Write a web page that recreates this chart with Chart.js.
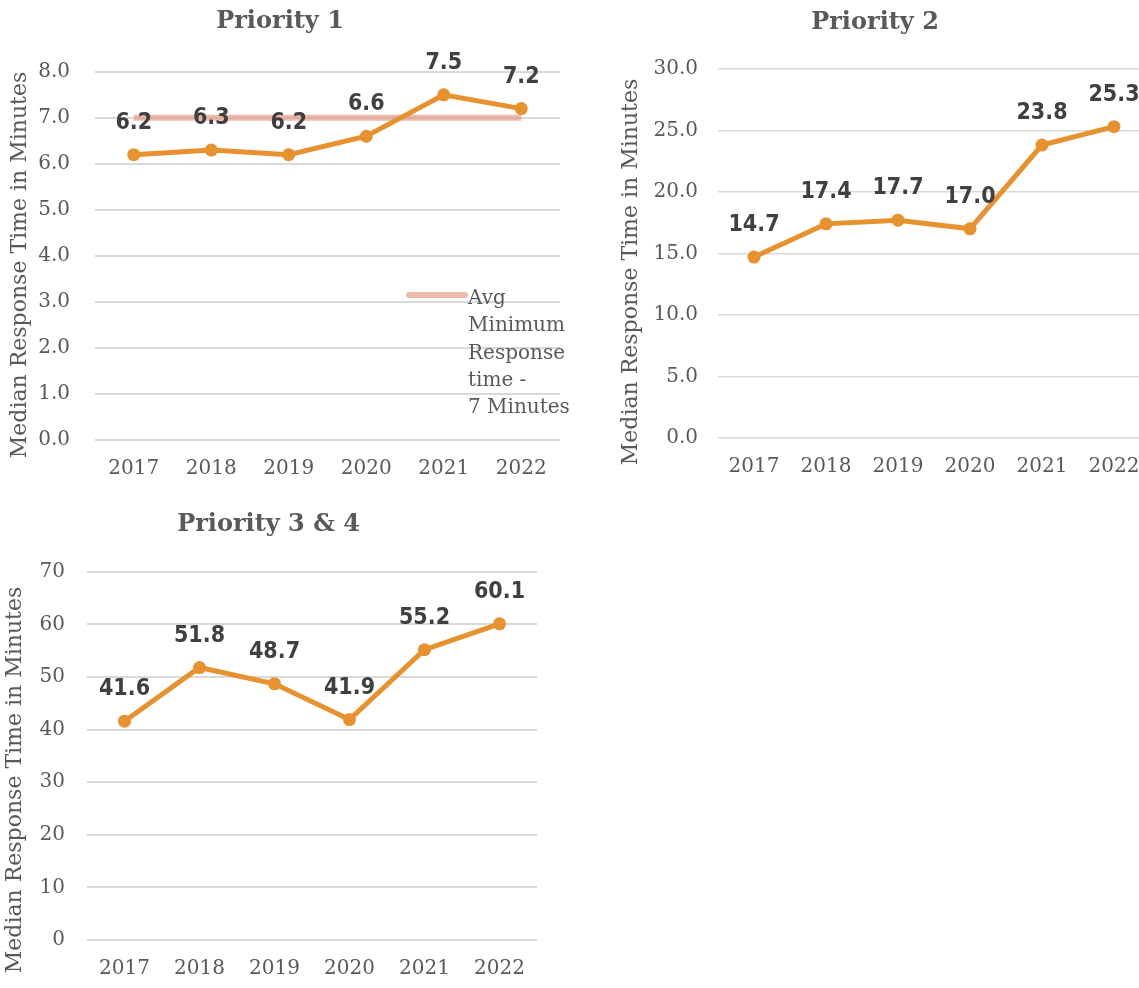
<!DOCTYPE html>
<html>
<head>
<meta charset="utf-8">
<script src="https://cdn.jsdelivr.net/npm/chart.js@4.4.1/dist/chart.umd.min.js"></script>
<style>
  html, body { margin: 0; padding: 0; background: #fff; overflow: hidden; }
  body { width: 1139px; height: 988px; position: relative; }
  .box { position: absolute; }
</style>
</head>
<body>
<div class="box" style="left:0;top:0;width:575px;height:490px"><canvas id="p1"></canvas></div>
<div class="box" style="left:600px;top:0;width:560px;height:490px"><canvas id="p2"></canvas></div>
<div class="box" style="left:0;top:495px;width:560px;height:493px"><canvas id="p3"></canvas></div>
<script>
// data
const years = ['2017', '2018', '2019', '2020', '2021', '2022'];
const priority1 = [6.2, 6.3, 6.2, 6.6, 7.5, 7.2];
const avgMinimum = [7, 7, 7, 7, 7, 7];
const priority2 = [14.7, 17.4, 17.7, 17.0, 23.8, 25.3];
const priority34 = [41.6, 51.8, 48.7, 41.9, 55.2, 60.1];
const avgLegendLines = ['Avg', 'Minimum', 'Response', 'time -', '7 Minutes'];
const yTitle = 'Median Response Time in Minutes';

const ORANGE = '#E8912F';
const SALMON = 'rgba(226,150,128,0.65)';
const GREY = '#595959';
const SERIF = '"DejaVu Serif", "Liberation Serif", serif';

// value labels above the orange points
const valueLabels = {
  id: 'valueLabels',
  afterDatasetsDraw(chart) {
    const ctx = chart.ctx;
    const meta = chart.getDatasetMeta(0);
    const data = chart.data.datasets[0].data;
    ctx.save();
    ctx.font = 'bold 23px "DejaVu Sans Condensed", "DejaVu Sans", sans-serif';
    try { ctx.fontStretch = 'condensed'; } catch (e) {}
    ctx.fillStyle = '#404040';
    ctx.textAlign = 'center';
    ctx.textBaseline = 'middle';
    meta.data.forEach(function (pt, i) {
      ctx.fillText(data[i].toFixed(1), pt.x, pt.y - 32);
    });
    ctx.restore();
  }
};

// rotated y title, placed like the excel one
const sideTitle = {
  id: 'sideTitle',
  afterDraw(chart, args, opts) {
    if (!opts.text) return;
    const ctx = chart.ctx;
    ctx.save();
    ctx.translate(opts.x, opts.y);
    ctx.rotate(-Math.PI / 2);
    ctx.font = '22px ' + SERIF;
    ctx.fillStyle = GREY;
    ctx.textAlign = 'center';
    ctx.textBaseline = 'middle';
    ctx.fillText(opts.text, 0, 0);
    ctx.restore();
  }
};

// wrapped legend for the avg line (chart 1 only)
const avgLegend = {
  id: 'avgLegend',
  afterDraw(chart, args, opts) {
    if (!opts.lines) return;
    const ctx = chart.ctx;
    ctx.save();
    ctx.strokeStyle = SALMON;
    ctx.lineWidth = 6;
    ctx.lineCap = 'round';
    ctx.beginPath();
    ctx.moveTo(opts.x, opts.y);
    ctx.lineTo(opts.x + 56, opts.y);
    ctx.stroke();
    ctx.font = '20px ' + SERIF;
    ctx.fillStyle = GREY;
    ctx.textAlign = 'left';
    ctx.textBaseline = 'middle';
    opts.lines.forEach(function (t, i) {
      ctx.fillText(t, opts.x + 59, opts.y + 4 + i * 27.2);
    });
    ctx.restore();
  }
};

function makeChart(id, cfg) {
  const datasets = [{
    data: cfg.values,
    borderColor: ORANGE,
    backgroundColor: ORANGE,
    borderWidth: 5,
    pointRadius: 6.5,
    pointBorderWidth: 0,
    pointBackgroundColor: ORANGE,
    tension: 0
  }];
  if (cfg.avg) {
    datasets.push({
      data: cfg.avg,
      borderColor: SALMON,
      borderWidth: 6,
      pointRadius: 0,
      tension: 0
    });
  }
  return new Chart(document.getElementById(id), {
    type: 'line',
    data: { labels: years, datasets: datasets },
    plugins: [valueLabels, sideTitle, avgLegend],
    options: {
      responsive: true,
      maintainAspectRatio: false,
      animation: false,
      layout: { padding: { left: 0, right: cfg.padRight, top: 0, bottom: 0 } },
      plugins: {
        legend: { display: false },
        tooltip: { enabled: false },
        title: {
          display: true,
          text: cfg.title,
          color: GREY,
          font: { family: SERIF, size: 24, weight: 'bold' },
          padding: { top: cfg.titleTop, bottom: cfg.titleBottom }
        },
        sideTitle: { text: yTitle, x: cfg.yTitleX, y: cfg.yTitleY },
        avgLegend: cfg.legend || {}
      },
      scales: {
        x: {
          offset: true,
          grid: { display: false, drawTicks: false },
          border: { display: false },
          ticks: { color: GREY, font: { family: SERIF, size: 20 }, padding: 17, maxRotation: 0 },
          afterFit: function (s) { s.height = cfg.xHeight; }
        },
        y: {
          min: 0,
          max: cfg.max,
          grid: { color: '#d9d9d9', lineWidth: cfg.gridWidth, drawTicks: false },
          border: { display: false },
          ticks: {
            stepSize: cfg.step,
            color: GREY,
            font: { family: SERIF, size: 20 },
            padding: cfg.tickPad,
            callback: function (v) { return v.toFixed(cfg.decimals); }
          },
          afterFit: function (s) { s.width = cfg.yWidth; }
        }
      }
    }
  });
}

makeChart('p1', {
  title: 'Priority 1', values: priority1, avg: avgMinimum,
  max: 8, step: 1, decimals: 1, gridWidth: 2, tickPad: 25,
  titleTop: 7, titleBottom: 36, xHeight: 50, yWidth: 95, padRight: 15,
  yTitleX: 20, yTitleY: 265,
  legend: { lines: avgLegendLines, x: 409, y: 295 }
});

makeChart('p2', {
  title: 'Priority 2', values: priority2,
  max: 30, step: 5, decimals: 1, gridWidth: 1.5, tickPad: 20,
  titleTop: 8, titleBottom: 32, xHeight: 52, yWidth: 118, padRight: 10,
  yTitleX: 31, yTitleY: 272
});

makeChart('p3', {
  title: 'Priority 3 & 4', values: priority34,
  max: 70, step: 10, decimals: 0, gridWidth: 2, tickPad: 22,
  titleTop: 15, titleBottom: 33, xHeight: 48, yWidth: 87, padRight: 23,
  yTitleX: 15, yTitleY: 285
});
</script>
</body>
</html>
